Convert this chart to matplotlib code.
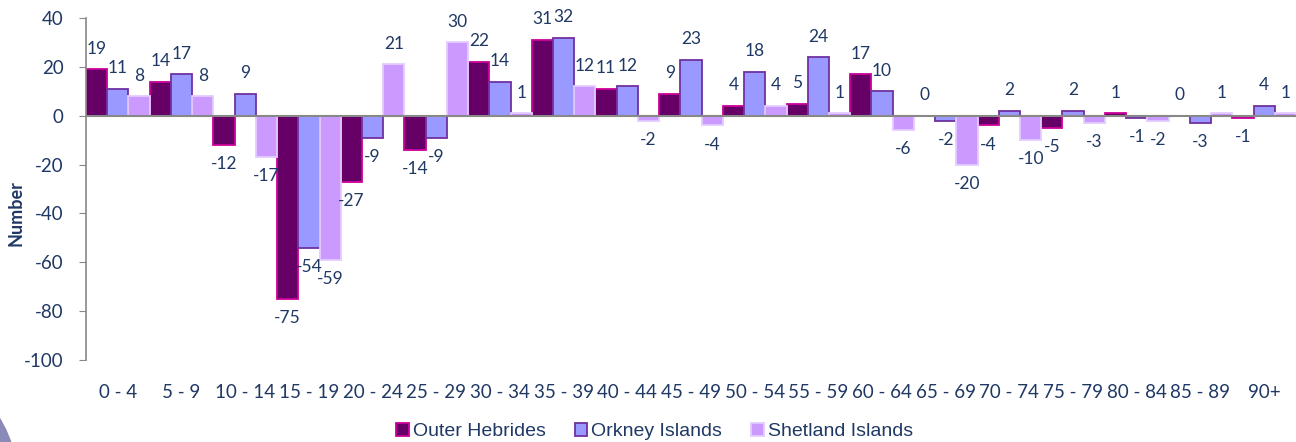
import numpy as np
import matplotlib
matplotlib.use('Agg')
import matplotlib.pyplot as plt
from matplotlib.patches import Ellipse

plt.rcParams['axes.unicode_minus'] = False

# 数据
age_groups = ['0 - 4', '5 - 9', '10 - 14', '15 - 19', '20 - 24', '25 - 29', '30 - 34',
              '35 - 39', '40 - 44', '45 - 49', '50 - 54', '55 - 59', '60 - 64', '65 - 69',
              '70 - 74', '75 - 79', '80 - 84', '85 - 89', '90+']
outer_hebrides = [19, 14, -12, -75, -27, -14, 22, 31, 11, 9, 4, 5, 17, 0, -4, -5, 1, 0, -1]
orkney = [11, 17, 9, -54, -9, -9, 14, 32, 12, 23, 18, 24, 10, -2, 2, 2, -1, -3, 4]
shetland = [8, 8, -17, -59, 21, 30, 1, 12, -2, -4, 4, 1, -6, -20, -10, -3, -2, 1, 1]

series_names = ['Outer Hebrides', 'Orkney Islands', 'Shetland Islands']
fills = ['#660066', '#9999FF', '#CC99FF']
edges = ['#CC0099', '#7030A0', '#E3CCFF']
text_col = '#1F3864'

fig = plt.figure(figsize=(12.96, 4.42), dpi=100)
ax = fig.add_axes([86/1296, 82/442, 1 - 86/1296, (360-18)/442])

x = np.arange(len(age_groups))
w = 1/3
for k, vals in enumerate([outer_hebrides, orkney, shetland]):
    pos = x - w + k*w
    ax.bar(pos, vals, width=w, color=fills[k], edgecolor=edges[k],
           linewidth=1.3, label=series_names[k], zorder=2)
    for xi, v in zip(pos, vals):
        if v >= 0:
            ax.annotate(str(v), (xi, v), xytext=(0, 9), textcoords='offset points',
                        ha='center', va='bottom', fontsize=12.5, color=text_col,
                        family='Lato')
        else:
            ax.annotate(str(v), (xi, v), xytext=(0, -8), textcoords='offset points',
                        ha='center', va='top', fontsize=12.5, color=text_col,
                        family='Lato')

ax.set_xlim(-0.5, len(age_groups) - 0.5)
ax.set_ylim(-100, 40)
ax.set_yticks(range(-100, 41, 20))
ax.set_xticks(x)
ax.set_xticklabels(age_groups, fontsize=13.5, color=text_col, family='Lato')
ax.tick_params(axis='x', length=0, pad=17)
ax.tick_params(axis='y', labelsize=13.5, labelcolor=text_col, color='#888888',
               length=5, direction='out', pad=11)
for lab in ax.get_yticklabels():
    lab.set_family('Lato')

ax.axhline(0, color='#888888', linewidth=1.5, zorder=3)
for s in ['top', 'right', 'bottom']:
    ax.spines[s].set_visible(False)
ax.spines['left'].set_color('#888888')
ax.spines['left'].set_linewidth(1.2)

ax.set_ylabel('Number', fontsize=13, fontweight='bold', color=text_col, family='Lato')
ax.yaxis.set_label_coords(-0.051, 0.43)

leg = fig.legend(loc='lower center', bbox_to_anchor=(0.505, -0.035), ncol=3,
                 frameon=False, prop={'family': 'Liberation Sans', 'size': 14},
                 handlelength=0.65, handleheight=0.65, handletextpad=0.2,
                 columnspacing=1.5)
for t in leg.get_texts():
    t.set_color(text_col)

# 左下角装饰
fig.patches.append(Ellipse((-100/1296, 1 - 480/442), 2*117/1296, 2*117/442,
                           transform=fig.transFigure, color='#8A8AB8', zorder=0))

fig.savefig('out.png', dpi=100)
